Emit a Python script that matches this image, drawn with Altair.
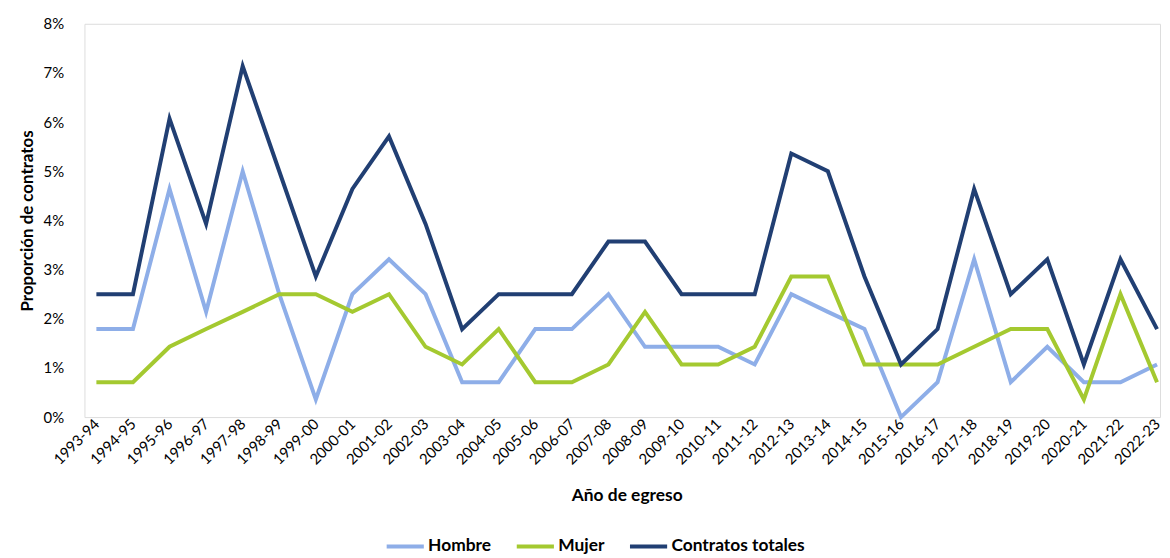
import altair as alt
import pandas as pd

years = ["1993-94", "1994-95", "1995-96", "1996-97", "1997-98", "1998-99", "1999-00",
         "2000-01", "2001-02", "2002-03", "2003-04", "2004-05", "2005-06", "2006-07",
         "2007-08", "2008-09", "2009-10", "2010-11", "2011-12", "2012-13", "2013-14",
         "2014-15", "2015-16", "2016-17", "2017-18", "2018-19", "2019-20", "2020-21",
         "2021-22", "2022-23"]

hombre = [1.79, 1.79, 4.64, 2.14, 5.00, 2.50, 0.36, 2.50, 3.21, 2.50, 0.71, 0.71, 1.79, 1.79,
          2.50, 1.43, 1.43, 1.43, 1.07, 2.50, 2.14, 1.79, 0.00, 0.71, 3.21, 0.71, 1.43, 0.71,
          0.71, 1.07]
mujer = [0.71, 0.71, 1.43, 1.79, 2.14, 2.50, 2.50, 2.14, 2.50, 1.43, 1.07, 1.79, 0.71, 0.71,
         1.07, 2.14, 1.07, 1.07, 1.43, 2.86, 2.86, 1.07, 1.07, 1.07, 1.43, 1.79, 1.79, 0.36,
         2.50, 0.71]
totales = [2.50, 2.50, 6.07, 3.93, 7.14, 5.00, 2.86, 4.64, 5.71, 3.93, 1.79, 2.50, 2.50, 2.50,
           3.57, 3.57, 2.50, 2.50, 2.50, 5.36, 5.00, 2.86, 1.07, 1.79, 4.64, 2.50, 3.21, 1.07,
           3.21, 1.79]

series_names = ["Hombre", "Mujer", "Contratos totales"]
series_colors = ["#8EAEE8", "#A4C930", "#213F73"]

rows = []
for name, vals in zip(series_names, [hombre, mujer, totales]):
    for i, (y, v) in enumerate(zip(years, vals)):
        rows.append({"Año": y, "Serie": name, "Valor": v / 100, "orden": series_names.index(name)})
df = pd.DataFrame(rows)

FONT = "Lato"

chart = alt.Chart(df).mark_line(strokeWidth=4, strokeJoin="miter").encode(
    x=alt.X("Año:O", sort=years,
            scale=alt.Scale(type="point", range=[12, 1080], padding=0),
            axis=alt.Axis(title="Año de egreso", labelAngle=315, labelAlign="right",
                          labelBaseline="middle", labelFontSize=15, labelColor="#000000",
                          labelPadding=4, ticks=False, domain=False, grid=False,
                          titleFontSize=17.5, titleFontWeight="bold", titleColor="#000000",
                          titleY=79, titleBaseline="middle", titleX=546)),
    y=alt.Y("Valor:Q",
            scale=alt.Scale(domain=[0, 0.08], nice=False),
            axis=alt.Axis(title="Proporción de contratos", format=".0%",
                          values=[0, 0.01, 0.02, 0.03, 0.04, 0.05, 0.06, 0.07, 0.08],
                          labelFontSize=15, labelColor="#000000", labelPadding=21,
                          ticks=False, domain=False, grid=False,
                          titleFontSize=17, titleFontWeight="bold", titleColor="#000000",
                          titleX=-57, titleY=198, titleAngle=270, titleBaseline="middle")),
    color=alt.Color("Serie:N",
                    scale=alt.Scale(domain=series_names, range=series_colors),
                    legend=alt.Legend(title=None, orient="none", direction="horizontal",
                                      legendX=302, legendY=505, symbolType="stroke",
                                      symbolStrokeWidth=4, symbolSize=1400,
                                      labelFontSize=17.5, labelFontWeight="bold",
                                      labelColor="#000000", labelOffset=2,
                                      columnPadding=17)),
    order=alt.Order("orden:Q"),
    detail="Serie:N",
).properties(
    width=1083, height=396,
    autosize=alt.AutoSizeParams(type="none"),
    padding={"left": 77, "top": 14, "right": 2, "bottom": 140},
).configure_view(stroke=None).configure(font=FONT)

chart.save("out.html", embed_options={"renderer": "svg", "actions": False})
